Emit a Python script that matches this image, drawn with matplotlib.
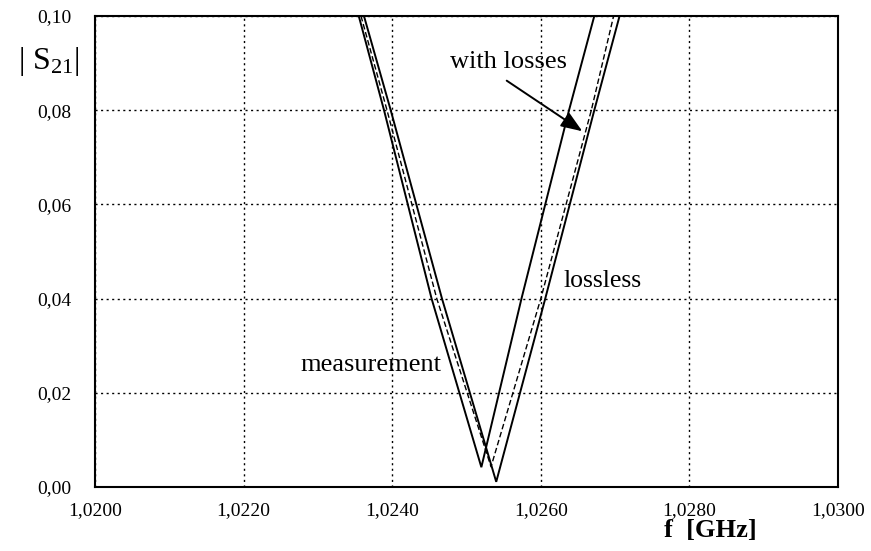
import matplotlib
matplotlib.use("Agg")
import matplotlib.pyplot as plt
from matplotlib.ticker import FixedLocator

plt.rcParams['font.family'] = ['Liberation Serif', 'DejaVu Serif']
plt.rcParams['mathtext.default'] = 'regular'

# Data (frequency in GHz, |S21|)
meas_f = [1.02355, 1.02389, 1.02453, 1.02520, 1.02574, 1.02638, 1.02672]
meas_s = [0.100, 0.080, 0.040, 0.0042, 0.040, 0.080, 0.100]

loss_f = [1.02358, 1.02393, 1.02460, 1.02533, 1.02600, 1.02668, 1.02698]
loss_s = [0.100, 0.080, 0.040, 0.0043, 0.040, 0.080, 0.100]

lossless_f = [1.02362, 1.02398, 1.02467, 1.02540, 1.02606, 1.02672, 1.02706]
lossless_s = [0.100, 0.080, 0.040, 0.0011, 0.040, 0.080, 0.100]

xticks = [1.0200, 1.0220, 1.0240, 1.0260, 1.0280, 1.0300]
xtick_labels = ["1,0200", "1,0220", "1,0240", "1,0260", "1,0280", "1,0300"]
yticks = [0.00, 0.02, 0.04, 0.06, 0.08, 0.10]
ytick_labels = ["0,00", "0,02", "0,04", "0,06", "0,08", "0,10"]

fig = plt.figure(figsize=(8.71, 5.51), dpi=100)
ax = fig.add_axes([95/871, 1-487/551, (838-95)/871, (487-16)/551])

ax.plot(meas_f, meas_s, color='black', lw=1.4, solid_joinstyle='miter')
ax.plot(loss_f, loss_s, color='black', lw=1.0, linestyle=(0, (4, 2)))
ax.plot(lossless_f, lossless_s, color='black', lw=1.4, solid_joinstyle='miter')

ax.set_xlim(1.0200, 1.0300)
ax.set_ylim(0.0, 0.10)
ax.xaxis.set_major_locator(FixedLocator(xticks))
ax.yaxis.set_major_locator(FixedLocator(yticks))
ax.set_xticklabels(xtick_labels, fontsize=14)
ax.set_yticklabels(ytick_labels, fontsize=14)
ax.tick_params(length=0)
ax.tick_params(axis='x', pad=11)
ax.tick_params(axis='y', pad=17)
ax.grid(True, color='black', linestyle=(0, (1.5, 2.5)), lw=1.0)
for sp in ax.spines.values():
    sp.set_linewidth(1.5)

ax.text(1.02371, 0.0259, "measurement", fontsize=19, ha='center', va='center')
ax.text(1.02683, 0.0437, "lossless", fontsize=18.5, ha='center', va='center')
ax.text(1.02556, 0.0902, "with losses", fontsize=19, ha='center', va='center')
ax.annotate("", xy=(1.02659, 0.0752), xytext=(1.02551, 0.0866),
            arrowprops=dict(arrowstyle='-|>,head_length=1.3,head_width=0.5',
                            color='black', lw=1.4))

fig.text(49/871, 1-62/551, r"| S$_{21}$|", fontsize=23, ha='center', va='center')
fig.text(710/871, 1-531/551, "f  [GHz]", fontsize=19, fontweight='bold',
         ha='center', va='center')

fig.savefig("out.png", dpi=100)
